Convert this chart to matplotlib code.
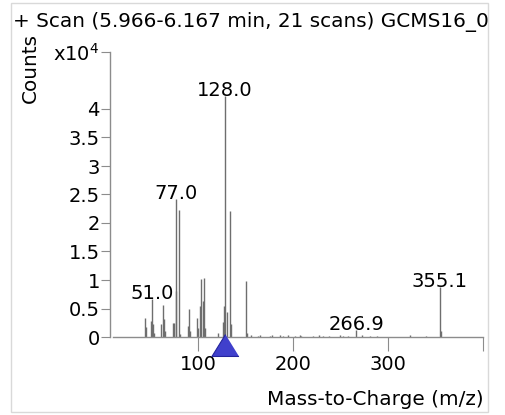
"""
plot.py -- mass spectrum (scan 5.966-6.167 min) redrawn with matplotlib.
"""

import matplotlib
matplotlib.use("Agg")
import matplotlib.pyplot as plt
import matplotlib.transforms as mtransforms
from matplotlib.patches import Rectangle

TITLE = "+ Scan (5.966-6.167 min, 21 scans) GCMS16_01.D"

# peak list: m/z and abundance (counts x10^4)
MZ = [43.8, 44.8, 50.2, 51.0, 52.5, 53.5, 60.7, 62.8, 64.2, 65.2,
      73.7, 75.0, 76.2, 77.0, 79.5, 81.0, 88.8, 90.5, 91.6, 98.6,
      100.0, 101.8, 103.5, 105.0, 106.0, 107.0, 121.0, 125.7, 127.0, 128.0,
      130.0, 134.1, 135.0, 151.0, 152.0, 156, 163, 165, 176, 178,
      186, 189, 195, 202, 207, 209, 221, 228, 232, 238,
      250, 253, 258, 266.9, 273, 281, 289, 324, 340, 355.1, 356.5]
ABUND = [0.34, 0.17, 0.28, 0.66, 0.22, 0.07, 0.22, 0.57, 0.31, 0.10,
         0.25, 0.25, 0.80, 2.42, 2.22, 0.05, 0.20, 0.49, 0.10, 0.34,
         0.16, 0.54, 1.01, 0.63, 1.03, 0.16, 0.07, 0.27, 0.54, 4.22,
         0.43, 2.21, 0.22, 0.98, 0.07, 0.03, 0.02, 0.03, 0.02, 0.03,
         0.03, 0.02, 0.03, 0.02, 0.03, 0.02, 0.02, 0.03, 0.02, 0.02,
         0.03, 0.02, 0.02, 0.12, 0.03, 0.02, 0.02, 0.03, 0.02, 0.88, 0.10]
LABELED = [51.0, 77.0, 128.0, 266.9, 355.1]
SELECTED_MZ = 128.0  # blue marker under the axis

YTICKS = [0, 0.5, 1, 1.5, 2, 2.5, 3, 3.5, 4, 5]
YTICK_LABELS = ["0", "0.5", "1", "1.5", "2", "2.5", "3", "3.5", "4", "x10$^4$"]
XTICKS = [100, 200, 300, 400]
XTICK_LABELS = ["100", "200", "300", ""]

plt.rcParams["font.family"] = ["DejaVu Sans"]
plt.rcParams["mathtext.default"] = "regular"
FS = 14
FS_TEXT = 14.4
AXIS_GRAY = "#8c8c8c"

W, H = 505, 415
fig = plt.figure(figsize=(W / 100, H / 100), dpi=100)
ax = fig.add_axes([110 / W, (H - 337) / H, 373 / W, 285 / H])

ax.vlines(MZ, 0, ABUND, color="#6e6e6e", linewidth=1.0)

for mz, a in zip(MZ, ABUND):
    if mz in LABELED:
        ax.annotate(f"{mz:.1f}", (mz, a), xytext=(0, 0), textcoords="offset points",
                    ha="center", va="baseline", fontsize=FS, annotation_clip=False)

ax.set_xlim(7, 400.5)
ax.set_ylim(0, 5)
for side in ("top", "right"):
    ax.spines[side].set_visible(False)
ax.spines["left"].set_bounds(0, 5)
ax.spines["bottom"].set_bounds(10, 400)
for side in ("left", "bottom"):
    ax.spines[side].set_color(AXIS_GRAY)
    ax.spines[side].set_linewidth(1.0)

ax.set_yticks(YTICKS)
ax.set_yticklabels(YTICK_LABELS)
ax.set_xticks(XTICKS)
ax.set_xticklabels(XTICK_LABELS)
ax.tick_params(axis="y", length=6.5, width=0.8, color=AXIS_GRAY, pad=0.8, labelsize=FS)
ax.tick_params(axis="x", length=10, width=0.8, color=AXIS_GRAY, pad=3, labelsize=FS)

# selected-ion marker below the baseline
tri = [(0, 0.81), (-1, -0.81), (1, -0.81)]
trans = mtransforms.blended_transform_factory(ax.transData, ax.transAxes)
ax.plot([SELECTED_MZ], [-0.027], transform=trans, marker=tri, markersize=19.5,
        markerfacecolor="#4040cc", markeredgecolor="#24249c", markeredgewidth=0.8,
        linestyle="none", clip_on=False, zorder=5)

# title, clipped at the frame like the instrument export
title = fig.text(13 / W, 1 - 22 / H, TITLE, fontsize=FS_TEXT, ha="left", va="center")
clip = mtransforms.TransformedBbox(mtransforms.Bbox([[0, 0], [488 / W, 1]]), fig.transFigure)
title.set_clip_box(clip)
title.set_clip_on(True)

fig.text(30 / W, 1 - 68 / H, "Counts", fontsize=FS_TEXT, rotation=90, ha="center", va="center")
fig.text(484 / W, 1 - 399 / H, "Mass-to-Charge (m/z)", fontsize=FS_TEXT, ha="right", va="center")

fig.patches.append(Rectangle((11 / W, 3 / H), 477 / W, 409 / H, transform=fig.transFigure,
                             fill=False, edgecolor="#d9d9d9", linewidth=1.0))

fig.savefig("out.png", dpi=100)
